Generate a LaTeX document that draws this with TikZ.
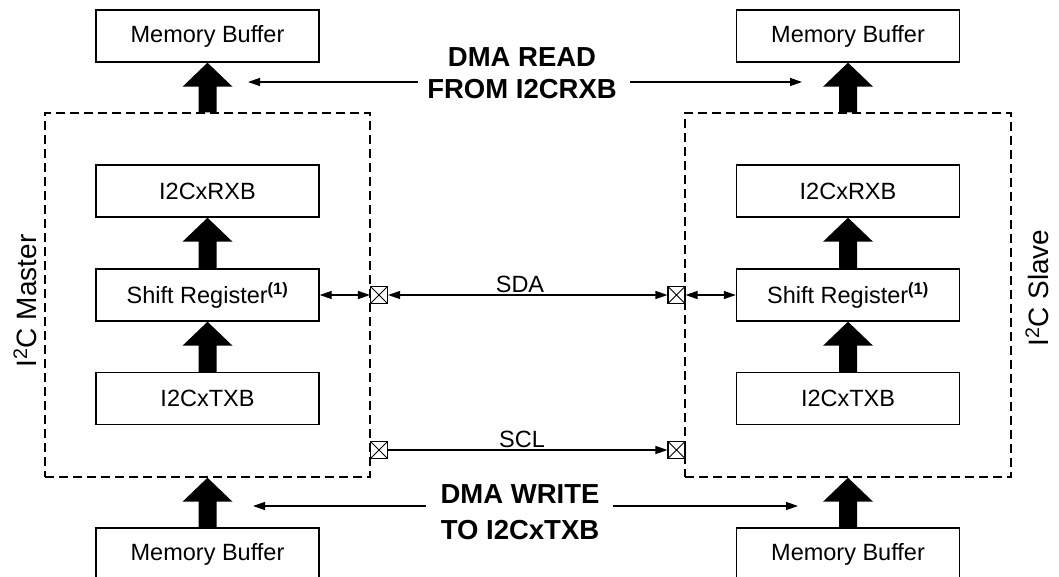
\documentclass[tikz,border=0pt]{standalone}
\usepackage{fontspec}
\setmainfont{Liberation Sans}
\usetikzlibrary{arrows.meta,calc}
\newcommand\bigarrow[2]{\fill let \p1=(#1), \p2=(#2) in
  (\x1-9pt,\y1) -- (\x1-9pt,\y2-24pt) -- (\x1-25pt,\y2-24pt) -- (\x1,\y2)
  -- (\x1+25pt,\y2-24pt) -- (\x1+9pt,\y2-24pt) -- (\x1+9pt,\y1) -- cycle;}
\begin{document}
\begin{tikzpicture}[x=1pt,y=-1pt,
  box/.style={draw,line width=1.4pt,minimum width=223pt,minimum height=52pt,inner sep=0pt,font=\fontsize{23.5}{28}\selectfont},
  region/.style={draw,line width=1.4pt,dash pattern=on 9pt off 5pt,inner sep=0pt},
  term/.style={draw,line width=1.1pt,minimum size=17pt,inner sep=0pt,
    path picture={\draw[line width=0.9pt] (path picture bounding box.north west)--(path picture bounding box.south east)
      (path picture bounding box.north east)--(path picture bounding box.south west);}},
  wire/.style={line width=1.3pt},
  onetip/.style={-{Triangle[length=12pt,width=8pt]}},
  twotips/.style={{Triangle[length=12pt,width=8pt]}-{Triangle[length=12pt,width=8pt]}},
  dmaread/.style={font=\fontsize{27.5}{32}\selectfont\bfseries,align=center,inner sep=0pt},
  dmawrite/.style={font=\fontsize{27.5}{36}\selectfont\bfseries,align=center,inner sep=0pt},
  sigtext/.style={font=\fontsize{23.5}{28}\selectfont,inner sep=0pt,anchor=base},
  sidetext/.style={font=\fontsize{28}{32}\selectfont,rotate=90,inner sep=0pt}
]
\useasboundingbox (0,0) rectangle (1059,577);
\clip (0,0) rectangle (1059,577);

% regions
\node[region,minimum width=325pt,minimum height=364pt] (master) at (207.5,295) {};
\node[region,minimum width=326pt,minimum height=364pt] (slave) at (848,295) {};

% left column
\node[box] (mbL) at (207.5,36) {Memory Buffer};
\node[box] (rxL) at (207.5,191) {I2CxRXB};
\node[box] (srL) at (207.5,295) {Shift Register\textsuperscript{\bfseries(1)}};
\node[box] (txL) at (207.5,398.5) {I2CxTXB};
\node[box] (mbLb) at (207.5,554) {Memory Buffer};

% right column
\node[box] (mbR) at (848,36) {Memory Buffer};
\node[box] (rxR) at (848,191) {I2CxRXB};
\node[box] (srR) at (848,295) {Shift Register\textsuperscript{\bfseries(1)}};
\node[box] (txR) at (848,398.5) {I2CxTXB};
\node[box] (mbRb) at (848,554) {Memory Buffer};

% big arrows
\bigarrow{master.north}{mbL.south}
\bigarrow{srL.north}{rxL.south}
\bigarrow{txL.north}{srL.south}
\bigarrow{mbLb.north}{master.south}
\bigarrow{slave.north}{mbR.south}
\bigarrow{srR.north}{rxR.south}
\bigarrow{txR.north}{srR.south}
\bigarrow{mbRb.north}{slave.south}

% terminals
\node[term,fill=white] (sdaL) at (379,295) {};
\node[term,fill=white] (sclL) at (379,450) {};
\node[term,fill=white] (sdaR) at (676.5,295) {};
\node[term,fill=white] (sclR) at (676.5,450) {};

% wires
\draw[wire,twotips] (srL.east) -- (sdaL.west);
\draw[wire,twotips] (sdaR.east) -- (srR.west);
\draw[wire,twotips] (sdaL.east) -- (sdaR.west);
\draw[wire,onetip] (sclL.east) -- (sclR.west);
\node[sigtext] (sda) at (520,292) {SDA};
\node[sigtext] (scl) at (522,447) {SCL};

% DMA labels
\node[dmaread] (dmar) at (522,73) {DMA READ\\FROM I2CRXB};
\node[dmawrite] (dmaw) at (520,512) {DMA WRITE\\TO I2CxTXB};
\coordinate (drLa) at (418,82);  \coordinate (drLb) at (248,82);
\coordinate (drRa) at (630,82);  \coordinate (drRb) at (802,82);
\coordinate (dwLa) at (426,506); \coordinate (dwLb) at (253,506);
\coordinate (dwRa) at (613,506); \coordinate (dwRb) at (798,506);
\draw[wire,onetip] (drLa) -- (drLb);
\draw[wire,onetip] (drRa) -- (drRb);
\draw[wire,onetip] (dwLa) -- (dwLb);
\draw[wire,onetip] (dwRa) -- (dwRb);

% side labels
\node[sidetext] (mlab) at (25,301) {I\textsuperscript{2}C Master};
\node[sidetext] (slab) at (1037,288) {I\textsuperscript{2}C Slave};
\end{tikzpicture}
\end{document}
